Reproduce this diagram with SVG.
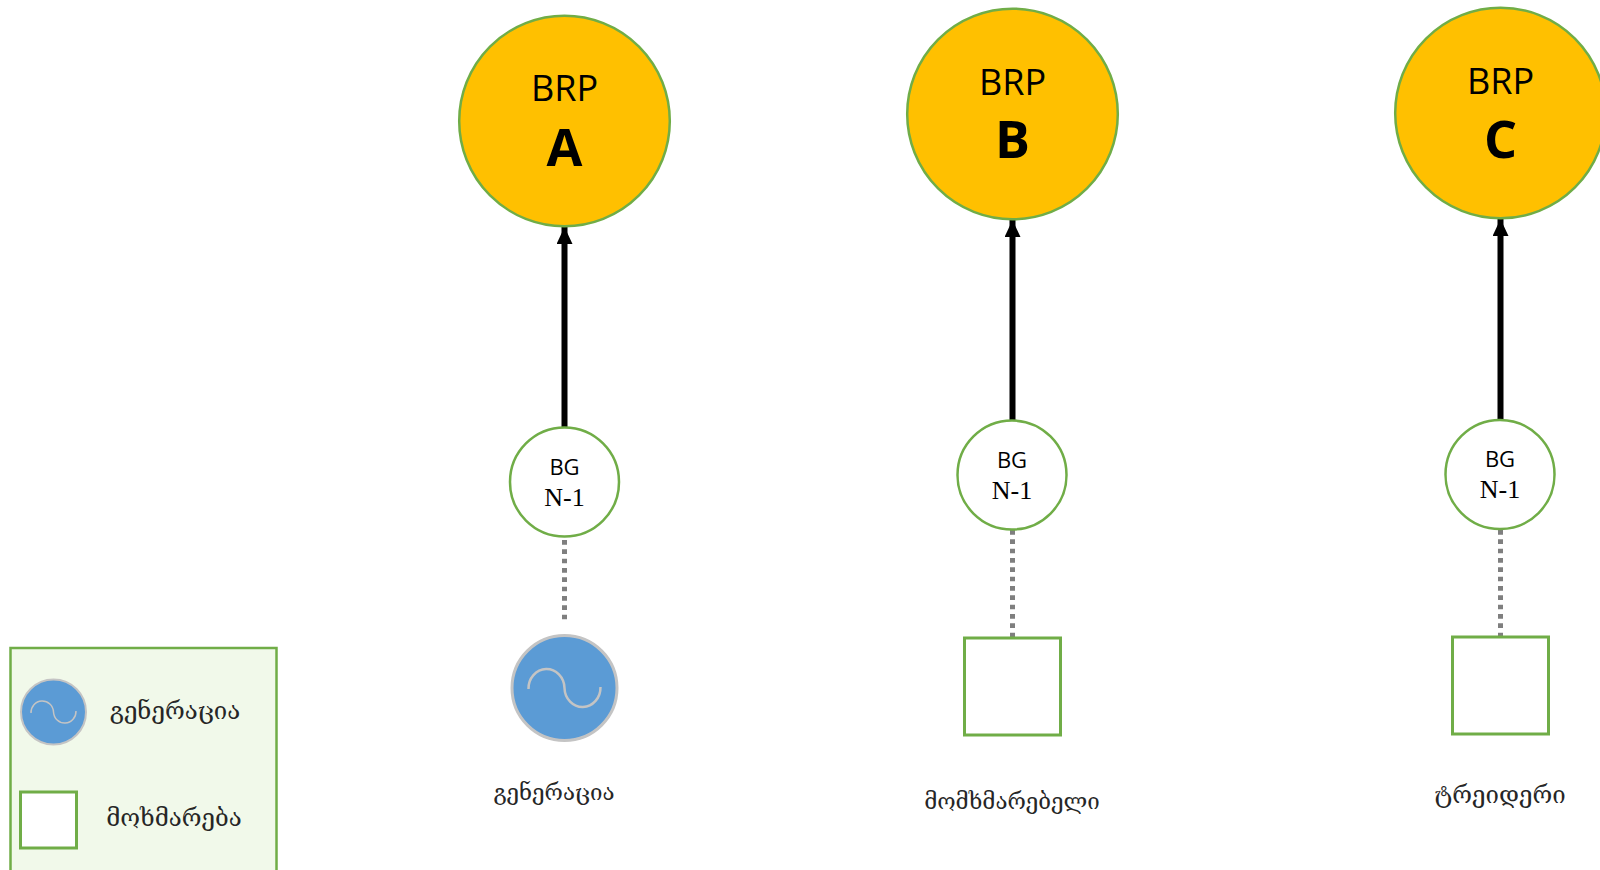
<svg xmlns="http://www.w3.org/2000/svg" width="1600" height="870" viewBox="0 0 1600 870">
<style>
text{text-anchor:middle;fill:#000}
.brp{font:36px "Open Sans","Liberation Sans",sans-serif}
.let{font:bold 52px "Open Sans","Liberation Sans",sans-serif}
.bg{font:22px "Open Sans","Liberation Sans",sans-serif}
.n1{font:26px "Liberation Serif",serif}
.ka{font:24px "DejaVu Serif","DejaVu Sans",serif;fill:#262626}
.kas{font-size:22.300px}
.big{fill:#ffc000;stroke:#70ad47;stroke-width:2.500}
.sm{fill:#fff;stroke:#70ad47;stroke-width:2.500}
.sq{fill:#fff;stroke:#70ad47;stroke-width:3}
.gen{fill:#5b9bd5;stroke:#c4c4c4;stroke-width:3}
.genl{fill:#5b9bd5;stroke:#c4c4c4;stroke-width:2}
.wave{fill:none;stroke:#c4c4c4;stroke-width:2.500}
.wavel{fill:none;stroke:#c4c4c4;stroke-width:1.500}
.arrow{stroke:#000;stroke-width:6;fill:none;marker-end:url(#ah)}
.dot{stroke:#7f7f7f;stroke-width:5;fill:none;stroke-dasharray:4.700 4.630}
</style>
<defs>
<marker id="ah" markerUnits="userSpaceOnUse" markerWidth="18" markerHeight="16" refX="17" refY="8" orient="auto"><path d="M0 0L17 8L0 16Z" fill="#000"/></marker>
</defs>
<g id="connectors">
<path class="arrow" d="M564.500 428V227"/>
<path class="arrow" d="M1012.500 421V220"/>
<path class="arrow" d="M1500.500 420V219"/>
<path class="dot" d="M564.500 540V620"/>
<path class="dot" d="M1012.500 530V637"/>
<path class="dot" d="M1500.500 530V637"/>
</g>
<g id="brp-a"><circle class="big" cx="564.500" cy="121" r="105.300"/><text class="brp" x="564.500" y="101">BRP</text><text class="let" x="564.500" y="166">A</text></g>
<g id="brp-b"><circle class="big" cx="1012.500" cy="114" r="105.300"/><text class="brp" x="1012.500" y="95">BRP</text><text class="let" x="1012.500" y="158">B</text></g>
<g id="brp-c"><circle class="big" cx="1500.500" cy="113" r="105.300"/><text class="brp" x="1500.500" y="94">BRP</text><text class="let" x="1500.500" y="158">C</text></g>
<g id="bg-a"><circle class="sm" cx="564.500" cy="482" r="54.500"/><text class="bg" x="564.500" y="475">BG</text><text class="n1" x="564.500" y="506">N-1</text></g>
<g id="bg-b"><circle class="sm" cx="1012" cy="475" r="54.500"/><text class="bg" x="1012" y="468">BG</text><text class="n1" x="1012" y="499">N-1</text></g>
<g id="bg-c"><circle class="sm" cx="1500" cy="474.500" r="54.500"/><text class="bg" x="1500" y="467">BG</text><text class="n1" x="1500" y="498">N-1</text></g>
<g id="generation"><circle class="gen" cx="564.500" cy="688" r="52.500"/><path class="wave" d="M528.500 689A18 19.500 0 0 1 564.500 688A18 19.500 0 0 0 600.500 687"/><text class="ka kas" x="554" y="800">გენერაცია</text></g>
<g id="consumer"><rect class="sq" x="964.500" y="638" width="96" height="97"/><text class="ka kas" x="1012" y="809">მომხმარებელი</text></g>
<g id="trader"><rect class="sq" x="1452.500" y="637" width="96" height="97"/><text class="ka" x="1500" y="803">ტრეიდერი</text></g>
<g id="legend"><rect x="10.500" y="648" width="266" height="240" fill="#f1f9ea" stroke="#70ad47" stroke-width="2.500"/>
<circle class="genl" cx="53.500" cy="712" r="32.500"/><path class="wavel" d="M31 713A11.200 11.500 0 0 1 53.500 712A11.200 11.500 0 0 0 76 711"/>
<rect class="sq" x="20.500" y="792" width="56" height="56"/>
<text class="ka" x="175" y="719">გენერაცია</text><text class="ka" x="174" y="826">მოხმარება</text></g>
</svg>
